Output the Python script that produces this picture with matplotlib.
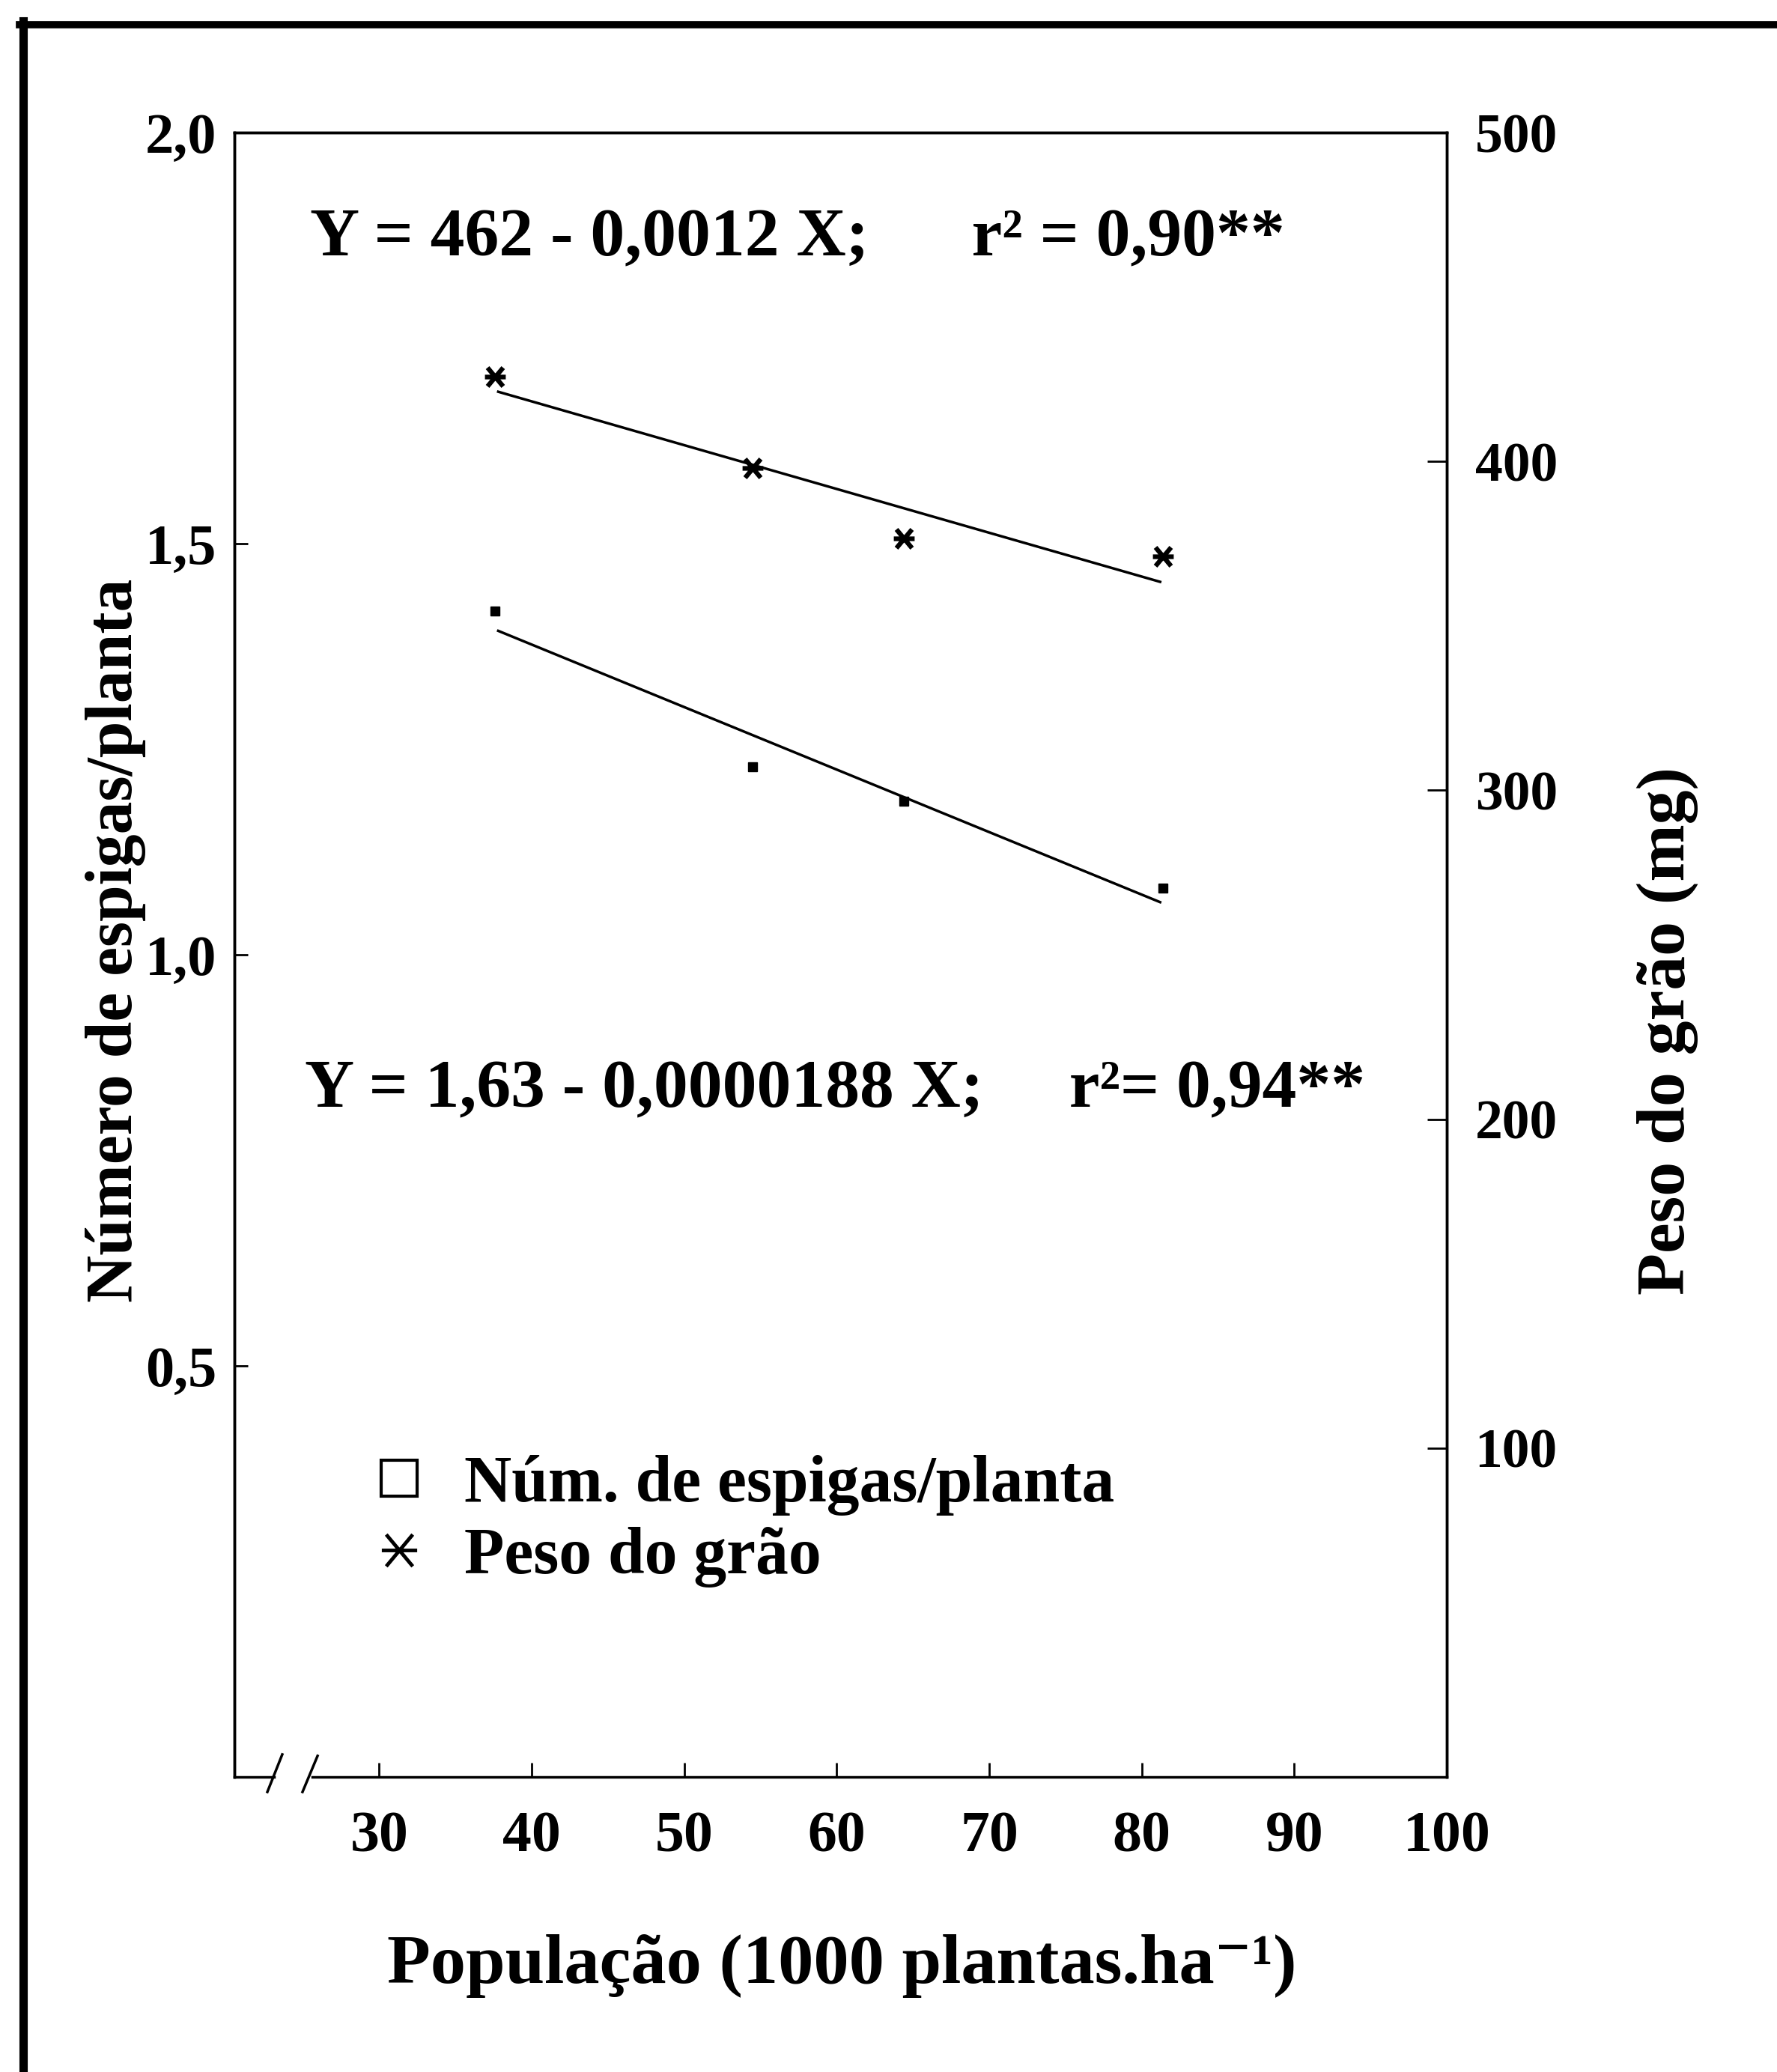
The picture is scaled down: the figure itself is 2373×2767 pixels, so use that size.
import numpy as np
import matplotlib.pyplot as plt
from matplotlib.lines import Line2D
from matplotlib.path import Path

plt.rcParams['font.family'] = ['Liberation Serif', 'DejaVu Serif']
plt.rcParams['font.weight'] = 'bold'
plt.rcParams['axes.labelweight'] = 'bold'

# data
populacao = [37.6, 54.5, 64.4, 81.4]          # 1000 plantas/ha
espigas = [1.418, 1.229, 1.187, 1.081]        # espigas/planta
peso = [425.8, 398.0, 376.6, 371.1]           # mg

# fitted lines (end points)
reta_x = [37.8, 81.2]
reta_espigas = [1.394, 1.064]
reta_peso = [421.2, 363.4]

xticks = [30, 40, 50, 60, 70, 80, 90, 100]
yticks_esq = [0.5, 1.0, 1.5, 2.0]
yticks_esq_lab = ['0,5', '1,0', '1,5', '2,0']
yticks_dir = [100, 200, 300, 400, 500]

eq_peso = 'Y = 462 - 0,0012 X;      r² = 0,90**'
eq_espigas = 'Y = 1,63 - 0,0000188 X;     r²= 0,94**'

# asterisk-like marker: X with a horizontal bar
star = Path([(-1, 0), (1, 0), (-0.75, -0.9), (0.75, 0.9), (-0.75, 0.9), (0.75, -0.9)],
            [Path.MOVETO, Path.LINETO, Path.MOVETO, Path.LINETO, Path.MOVETO, Path.LINETO])

fig = plt.figure(figsize=(23.73, 27.67), dpi=100)
ax = fig.add_axes([0.1319, 0.1424, 0.6823, 0.7936])
ax2 = ax.twinx()

ax.plot(populacao, espigas, 's', color='k', ms=8)
ax.plot(reta_x, reta_espigas, '-', color='k', lw=2.5)
ax2.plot(populacao, peso, ls='none', marker=star, mec='k', mfc='none', ms=20, mew=4.5)
ax2.plot(reta_x, reta_peso, '-', color='k', lw=2.5)

ax.set_xlim(20.5, 100)
ax.set_ylim(0, 2.0)
ax2.set_ylim(0, 500)

ax.set_xticks(xticks)
ax.set_xticklabels([str(t) for t in xticks])
ax.set_yticks(yticks_esq)
ax.set_yticklabels(yticks_esq_lab)
ax2.set_yticks(yticks_dir)
ax2.set_yticklabels([str(t) for t in yticks_dir])

ax.tick_params(axis='x', direction='in', length=14, width=2, labelsize=56, pad=33)
ax.tick_params(axis='y', direction='in', length=13, width=2, labelsize=55, pad=17)
ax2.tick_params(axis='y', direction='in', length=19, width=2, labelsize=53, pad=27)

for a in (ax, ax2):
    for s in a.spines.values():
        s.set_linewidth(2.5)
    a.spines['bottom'].set_visible(False)

# broken x axis drawn by hand
kw = dict(transform=ax.transAxes, color='k', lw=2.5, clip_on=False)
ax.plot([0, 0.033], [0, 0], **kw)
ax.plot([0.0642, 1], [0, 0], **kw)
ax.plot([0.0272, 0.0395], [-0.0091, 0.0137], **kw)
ax.plot([0.0562, 0.0686], [-0.0091, 0.0128], **kw)

ax.set_xlabel('População (1000 plantas.ha⁻¹)', fontsize=68, va='center')
ax.xaxis.set_label_coords(0.501, -0.1148)
ax.set_ylabel('Número de espigas/planta', fontsize=63, va='center')
ax.yaxis.set_label_coords(-0.0976, 0.5087)
ax2.set_ylabel('Peso do grão (mg)', fontsize=66, va='center', rotation=90)
ax2.yaxis.set_label_coords(1.1816, 0.454)

ax.text(25.44, 1.850, eq_peso, fontsize=66, ha='left', va='baseline')
ax.text(25.1, 0.815, eq_espigas, fontsize=66, ha='left', va='baseline')

h1 = Line2D([], [], ls='none', marker='s', mfc='none', mec='k', ms=34, mew=3)
h2 = Line2D([], [], ls='none', marker=star, mfc='none', mec='k', ms=34, mew=3.5)
ax.legend([h1, h2], ['Núm. de espigas/planta', 'Peso do grão'], loc='upper left',
          bbox_to_anchor=(0.2061, 0.2978), bbox_transform=fig.transFigure,
          frameon=False, fontsize=63, handlelength=1.0, handletextpad=0.5,
          labelspacing=0.17, borderpad=0, borderaxespad=0, numpoints=1)

# page frame (top and left edges only)
fig.add_artist(Line2D([0.011, 1.0], [0.98807, 0.98807], transform=fig.transFigure, color='k', lw=7))
fig.add_artist(Line2D([0.01306, 0.01306], [0.0, 0.9899], transform=fig.transFigure, color='k', lw=8))

fig.savefig('out.png', dpi=100)
